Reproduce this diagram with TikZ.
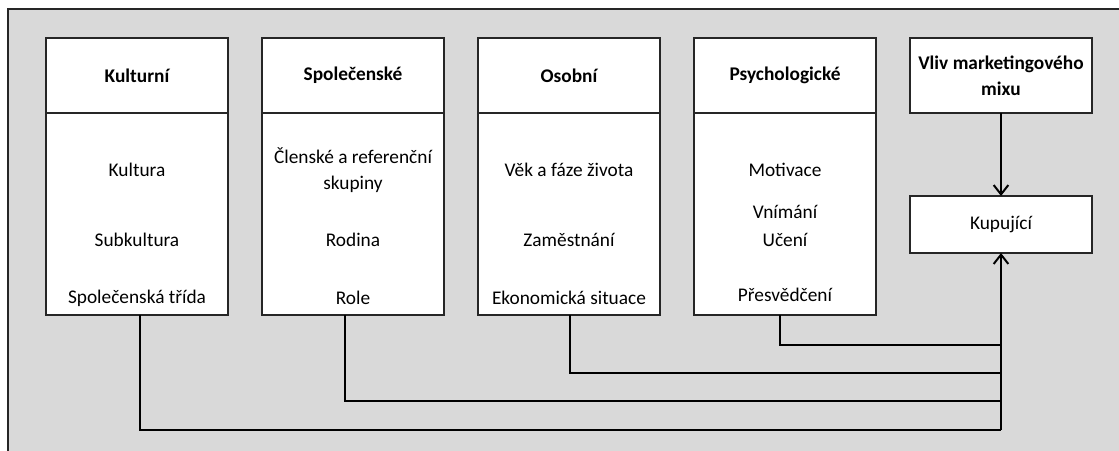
\documentclass[tikz,border=0pt]{standalone}
\usepackage{fontspec}
\setmainfont{Carlito}
\usetikzlibrary{calc,arrows.meta}
\definecolor{panel}{HTML}{D9D9D9}
\definecolor{rule}{HTML}{262626}

\newcommand{\diagfont}{\fontsize{14.5}{19.5}\selectfont}
\tikzset{
  box/.style={draw=rule,line width=1.5pt,fill=white,inner sep=0pt,outer sep=0pt,
    anchor=north west,minimum width=136.5pt,font=\diagfont,align=center},
  head/.style={box,minimum height=56.25pt,font=\diagfont\bfseries},
  body/.style={box,minimum height=151.5pt},
  item/.style={inner sep=0pt,align=center,font=\diagfont},
  wire/.style={draw=black,line width=1.5pt},
}

\begin{document}
\begin{tikzpicture}[x=0.75pt,y=-0.75pt]
    \useasboundingbox (0,0) rectangle (1119,450);
    \fill[panel] (8,9) rectangle (1125,456);
    \draw[rule,line width=1.5pt] (8,456)--(8,9)--(1125,9);

    % factor columns
    \node[head] (kult) at (46,38) {Kulturní};
    \node[body] (kultb) at (46,113) {};
    \node[head] (spol) at (262,38) {Společenské};
    \node[body] (spolb) at (262,113) {};
    \node[head] (osob) at (478,38) {Osobní};
    \node[body] (osobb) at (478,113) {};
    \node[head] (psych) at (694,38) {Psychologické};
    \node[body] (psychb) at (694,113) {};

    \node[item] (k1) at (137,170) {Kultura};
    \node[item] (k2) at (137,240) {Subkultura};
    \node[item] (k3) at (137,298) {Společenská třída};
    \node[item] (s1) at (353,170) {Členské a referenční\\skupiny};
    \node[item] (s2) at (353,240) {Rodina};
    \node[item] (s3) at (353,298) {Role};
    \node[item] (o1) at (569,170) {Věk a fáze života};
    \node[item] (o2) at (569,240) {Zaměstnání};
    \node[item] (o3) at (569,298) {Ekonomická situace};
    \node[item] (p1) at (785,170) {Motivace};
    \node[item] (p2) at (785,212) {Vnímání};
    \node[item] (p3) at (785,240) {Učení};
    \node[item] (p4) at (785,295) {Přesvědčení};

    % buyer
    \node[head] (mix) at (910,38) {Vliv marketingového\\mixu};
    \node[box,minimum height=42.75pt] (kup) at (910,196) {Kupující};

    \coordinate (j1) at (1001,345);
    \coordinate (j2) at (1001,373);
    \coordinate (j3) at (1001,401);
    \coordinate (j4) at (1001,430);
    \draw[wire] ([xshift=-4]psychb.south) |- (j1);
    \draw[wire] ([xshift=1]osobb.south) |- (j2);
    \draw[wire] ([xshift=-6]spolb.south) |- (j3);
    \draw[wire] ([xshift=2]kultb.south) |- (j4);
    \draw[wire,-{Straight Barb[length=7pt,width=11pt]}] (j4)--(kup.south);
    \draw[wire,-{Straight Barb[length=7pt,width=11pt]}] (mix.south)--(kup.north);
\end{tikzpicture}
\end{document}
